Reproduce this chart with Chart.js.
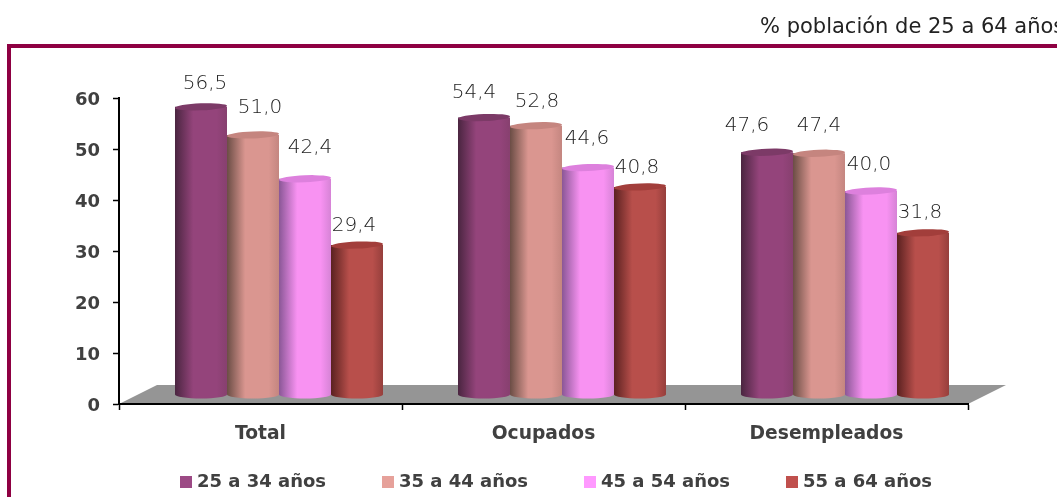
<!DOCTYPE html>
<html lang="es">
<head>
<meta charset="utf-8">
<title>Población de 25 a 64 años</title>
<script src="https://cdn.jsdelivr.net/npm/chart.js@4/dist/chart.umd.min.js"></script>
<style>
    html, body { margin: 0; padding: 0; background: #fff; overflow: hidden; }
    canvas { display: block; }
    #frame { position: absolute; left: 7px; top: 44px; right: 0; bottom: 0; border-top: 4px solid #8e0042; border-left: 4px solid #8e0042; }
</style>
</head>
<body>
<div id="frame"></div>
<canvas id="chart" width="1057" height="497" style="position:absolute;left:0;top:0"></canvas>
<script>
const categories = ['Total', 'Ocupados', 'Desempleados'];
const seriesNames = ['25 a 34 años', '35 a 44 años', '45 a 54 años', '55 a 64 años'];
const age25to34 = [56.5, 54.4, 47.6];
const age35to44 = [51.0, 52.8, 47.4];
const age45to54 = [42.4, 44.6, 40.0];
const age55to64 = [29.4, 40.8, 31.8];
const yTicks = [0, 10, 20, 30, 40, 50, 60];
const subtitle = '% población de 25 a 64 años';

const legendColors = ['#9c4a85', '#e6a19a', '#ff99ff', '#c0504d'];
// left edge, middle and cap shades of each cylinder
const shades = [
    { dark: '#4a2540', mid: '#94447b', edge: '#87406f', cap: '#7c3a67' },
    { dark: '#6b4d45', mid: '#da9690', edge: '#c48680', cap: '#c5857f' },
    { dark: '#8a5796', mid: '#f892f2', edge: '#d683d6', cap: '#dd80dd' },
    { dark: '#5a2120', mid: '#b84f4b', edge: '#963f3c', cap: '#a23e3b' }
];
// the original labels do not sit exactly above their bars [dx, dy] per series/category
const labelShift = [
    [[4, -23], [-10, -25], [-20, -26]],
    [[7, -27], [1, -24], [0, -27]],
    [[5, -31], [-1, -29], [-2, -26]],
    [[-3, -19], [-3, -19], [-3, -20]]
];

const depthX = 18.5, depthY = -9; // bars stand in the middle of the floor
const floorX = 38, floorY = -19;
const textColor = '#404040';
const family = '"DejaVu Sans", sans-serif';
const faceBold = 'bold 18px ' + family;
const faceThin = '200 20px ' + family;

const cylinders = {
    id: 'cylinders',
    beforeDraw(chart) {
        const { ctx, chartArea: area } = chart;
        ctx.save();
        ctx.fillStyle = '#959595';
        ctx.beginPath();
        ctx.moveTo(area.left, area.bottom);
        ctx.lineTo(area.left + floorX, area.bottom + floorY);
        ctx.lineTo(area.right + floorX, area.bottom + floorY);
        ctx.lineTo(area.right, area.bottom);
        ctx.closePath();
        ctx.fill();
        ctx.restore();
    },
    beforeDatasetDraw(chart, args) {
        const ctx = chart.ctx;
        const shade = shades[args.index];
        ctx.save();
        ctx.translate(depthX, depthY);
        args.meta.data.forEach((bar) => {
            const left = bar.x - bar.width / 2;
            const right = bar.x + bar.width / 2;
            const rx = bar.width / 2;
            const grad = ctx.createLinearGradient(left, 0, right, 0);
            grad.addColorStop(0, shade.dark);
            grad.addColorStop(0.35, shade.mid);
            grad.addColorStop(0.8, shade.mid);
            grad.addColorStop(1, shade.edge);
            ctx.fillStyle = grad;
            ctx.beginPath();
            ctx.moveTo(left, bar.y);
            ctx.lineTo(left, bar.base);
            ctx.ellipse(bar.x, bar.base, rx, 4, 0, Math.PI, 0, true);
            ctx.lineTo(right, bar.y);
            ctx.closePath();
            ctx.fill();
            ctx.fillStyle = shade.cap;
            ctx.beginPath();
            ctx.ellipse(bar.x, bar.y, rx, 3.5, -0.04, 0, Math.PI * 2);
            ctx.fill();
        });
        ctx.restore();
        return false;
    },
    afterDraw(chart) {
        const { ctx, chartArea: area } = chart;
        ctx.save();
        ctx.fillStyle = '#222';
        ctx.textBaseline = 'middle';

        // value labels
        ctx.font = faceThin;
        ctx.textAlign = 'center';
        chart.data.datasets.forEach((ds, i) => {
            chart.getDatasetMeta(i).data.forEach((bar, j) => {
                const [dx, dy] = labelShift[i][j];
                const text = ds.data[j].toFixed(1).replace('.', ',');
                ctx.fillText(text, bar.x + depthX + dx, bar.y + depthY + dy);
            });
        });

        // legend
        ctx.font = faceBold;
        ctx.textAlign = 'left';
        chart.data.datasets.forEach((ds, i) => {
            const x = 180 + i * 202;
            ctx.fillStyle = legendColors[i];
            ctx.fillRect(x, area.bottom + 72, 12, 12);
            ctx.fillStyle = textColor;
            ctx.fillText(ds.label, x + 17, area.bottom + 78);
        });

        // note above the frame, runs off the right edge like the original
        ctx.font = '21px ' + family;
        ctx.fillStyle = '#222';
        ctx.fillText(subtitle, 760, 28);
        ctx.restore();
    }
};

new Chart(document.getElementById('chart').getContext('2d'), {
    type: 'bar',
    data: {
        labels: categories,
        datasets: [age25to34, age35to44, age45to54, age55to64].map((values, i) => ({
            label: seriesNames[i],
            data: values,
            backgroundColor: legendColors[i],
            categoryPercentage: 0.735,
            barPercentage: 1
        }))
    },
    options: {
        responsive: false,
        animation: false,
        layout: { padding: { top: 98, left: 20, right: 89, bottom: 0 } },
        plugins: {
            legend: { display: false },
            tooltip: { enabled: false }
        },
        scales: {
            x: {
                afterFit(scale) { scale.height = 93; },
                border: { color: '#000', width: 2 },
                grid: { offset: true, drawOnChartArea: false, color: '#000', tickLength: 6, tickWidth: 1.5 },
                ticks: { color: textColor, font: { family: 'DejaVu Sans', size: 18.7, weight: 'bold' }, padding: 13, maxRotation: 0 }
            },
            y: {
                min: 0,
                max: 60,
                afterFit(scale) { scale.width = 99; },
                afterBuildTicks(scale) { scale.ticks = yTicks.map((value) => ({ value })); },
                border: { color: '#000', width: 2 },
                grid: { drawOnChartArea: false, color: '#000', tickLength: 6, tickWidth: 1.5 },
                ticks: { color: textColor, font: { family: 'DejaVu Sans', size: 18, weight: 'bold' }, padding: 13, labelOffset: 2 }
            }
        }
    },
    plugins: [cylinders]
});
</script>
</body>
</html>
